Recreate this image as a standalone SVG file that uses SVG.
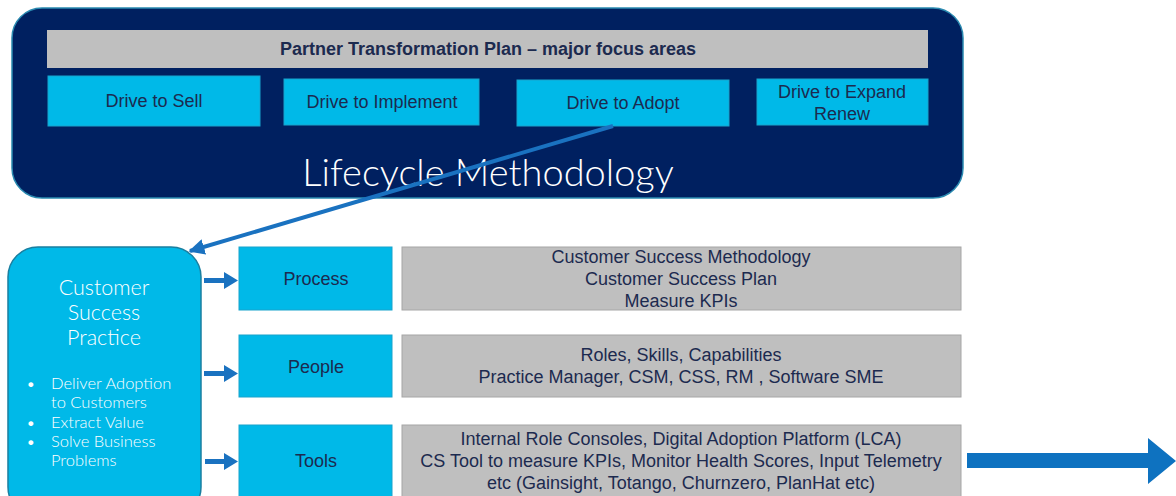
<svg xmlns="http://www.w3.org/2000/svg" width="1176" height="496" viewBox="0 0 1176 496">
<defs>
<style>
.navy{fill:#002060;stroke:#2a8ab0;stroke-width:1.5}
.cyan{fill:#00b9e8;stroke:#19a3cc;stroke-width:1}
.gray{fill:#bfbfbf;stroke:#a6a6a6;stroke-width:1}
.dt{font-family:"Liberation Sans",Arial,sans-serif;fill:#1c2a4f;text-anchor:middle}
.gt{font-family:"Liberation Sans",Arial,sans-serif;fill:#1c2a4f;text-anchor:middle;font-size:18px}
.wt{font-family:Lato,"Open Sans",sans-serif;fill:#ffffff;font-weight:300}
.conn{stroke:#1a72c0;fill:none}
</style>
<marker id="ah" viewBox="0 0 10 10" refX="9" refY="5" markerWidth="4" markerHeight="4" orient="auto" markerUnits="strokeWidth">
<path d="M0,0 L10,5 L0,10 z" fill="#1a72c0"/>
</marker>
</defs>
<rect width="1176" height="496" fill="#ffffff"/>

<g id="lifecycle">
<rect class="navy" x="12" y="8" width="951" height="190" rx="30"/>
<text class="wt" x="488" y="186" font-size="38" text-anchor="middle">Lifecycle Methodology</text>
</g>
<g id="header">
<rect x="47" y="30" width="881" height="38" fill="#bfbfbf"/>
<text class="dt" x="488" y="55" font-size="18" font-weight="bold">Partner Transformation Plan – major focus areas</text>
</g>
<g id="sell">
<rect class="cyan" x="48" y="76" width="212" height="50"/>
<text class="dt" x="154" y="107" font-size="18">Drive to Sell</text>
</g>
<g id="implement">
<rect class="cyan" x="284" y="79" width="195" height="46"/>
<text class="dt" x="382" y="108" font-size="18">Drive to Implement</text>
</g>
<g id="adopt">
<rect class="cyan" x="517" y="80" width="212" height="46"/>
<text class="dt" x="623" y="109" font-size="18">Drive to Adopt</text>
</g>
<g id="expand">
<rect class="cyan" x="757" y="79" width="171" height="46"/>
<text class="dt" x="842" y="98" font-size="18">Drive to Expand</text>
<text class="dt" x="842" y="120" font-size="18">Renew</text>
</g>

<g id="csp">
<rect x="8" y="247" width="193" height="270" rx="30" fill="#00b9e8" stroke="#1a7fa0" stroke-width="1.5"/>
<text class="wt" x="104" y="295" font-size="21.5" text-anchor="middle">Customer</text>
<text class="wt" x="104" y="320" font-size="21.5" text-anchor="middle">Success</text>
<text class="wt" x="104" y="345" font-size="21.5" text-anchor="middle">Practice</text>
<g font-family="Lato,'Open Sans',sans-serif" fill="#ffffff" font-size="16.5" font-weight="300">
<text x="26" y="389">•</text><text x="51" y="389">Deliver Adoption</text>
<text x="51" y="408">to Customers</text>
<text x="26" y="428">•</text><text x="51" y="428">Extract Value</text>
<text x="26" y="447">•</text><text x="51" y="447">Solve Business</text>
<text x="51" y="466">Problems</text>
</g>
</g>

<g id="process">
<rect class="cyan" x="239" y="247" width="153" height="63"/>
<text class="dt" x="316" y="285" font-size="18">Process</text>
</g>
<g id="people">
<rect class="cyan" x="239" y="335" width="153" height="62"/>
<text class="dt" x="316" y="373" font-size="18">People</text>
</g>
<g id="tools">
<rect class="cyan" x="239" y="425" width="153" height="80"/>
<text class="dt" x="316" y="467" font-size="18">Tools</text>
</g>

<g id="process-detail">
<rect class="gray" x="402" y="247" width="559" height="63"/>
<text class="gt" x="681" y="263">Customer Success Methodology</text>
<text class="gt" x="681" y="285">Customer Success Plan</text>
<text class="gt" x="681" y="307">Measure KPIs</text>
</g>
<g id="people-detail">
<rect class="gray" x="402" y="335" width="559" height="62"/>
<text class="gt" x="681" y="361">Roles, Skills, Capabilities</text>
<text class="gt" x="681" y="383">Practice Manager, CSM, CSS, RM , Software SME</text>
</g>
<g id="tools-detail">
<rect class="gray" x="402" y="425" width="559" height="80"/>
<text class="gt" x="681" y="445">Internal Role Consoles, Digital Adoption Platform (LCA)</text>
<text class="gt" x="681" y="467">CS Tool to measure KPIs, Monitor Health Scores, Input Telemetry</text>
<text class="gt" x="681" y="489">etc (Gainsight, Totango, Churnzero, PlanHat etc)</text>
</g>

<g id="connectors">
<line class="conn" x1="613" y1="126" x2="190" y2="251" stroke-width="4" marker-end="url(#ah)"/>
<g fill="#1a72c0">
<path d="M204,278 L224,278 L224,272 L238,280.5 L224,289 L224,283 L204,283 z"/>
<path d="M204,371 L224,371 L224,365 L238,373.5 L224,382 L224,376 L204,376 z"/>
<path d="M205,459 L224,459 L224,453 L238,461.5 L224,470 L224,464 L205,464 z"/>
</g>
<path d="M967,453 L1148,453 L1148,438 L1176,461 L1148,484 L1148,468 L967,468 z" fill="#0e72c0"/>
</g>
</svg>
